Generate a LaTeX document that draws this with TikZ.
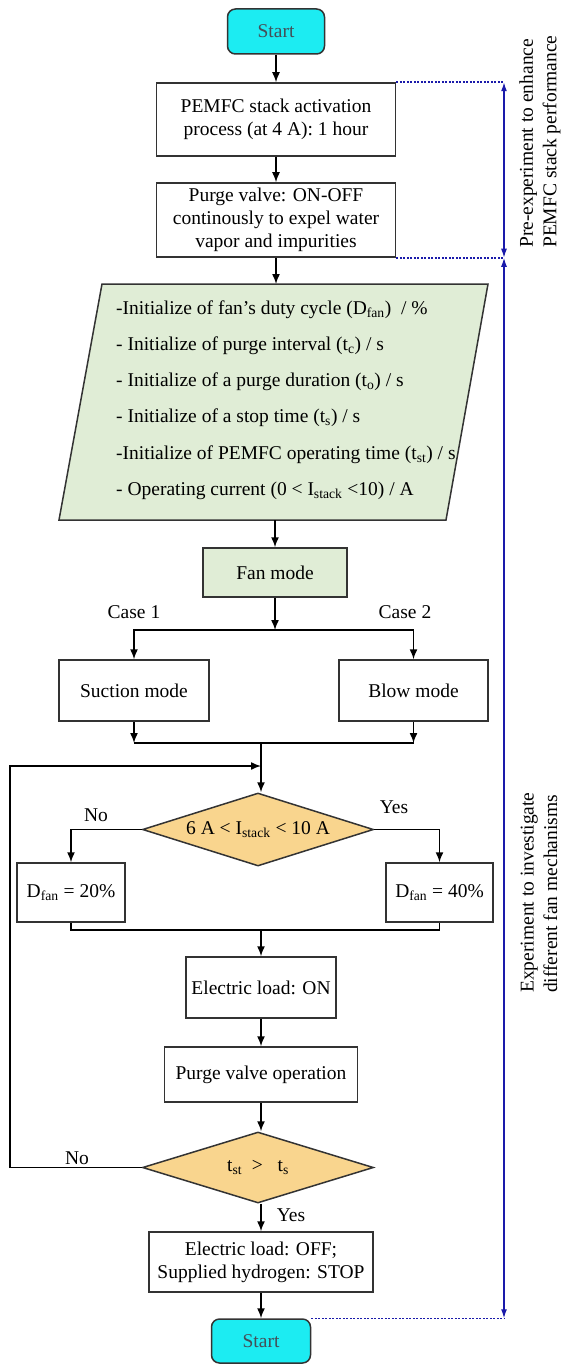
\documentclass[tikz,border=0pt]{standalone}
\usepackage{fontspec}
\setmainfont{Liberation Serif}
\usetikzlibrary{shapes.geometric,arrows.meta}
\definecolor{termcyan}{HTML}{1CECF2}
\definecolor{inputgreen}{HTML}{E0EDD6}
\definecolor{decisionorange}{HTML}{F9D58E}
\definecolor{railblue}{HTML}{1A1AAA}
\definecolor{edgegray}{HTML}{333333}
\tikzset{
	% Node styles for the flowchart: terminals, processes and decisions
	term node/.style={draw=edgegray,line width=1.5pt,rounded corners=8pt,fill=termcyan,text=black!75!cyan},
	proc node/.style={draw=edgegray,line width=1.5pt,fill=white,align=center,inner sep=2pt},
	decision node/.style={diamond,aspect=3.16,draw=edgegray,line width=1.5pt,fill=decisionorange,inner sep=0pt},
	% Connectors: flow arrows, the blue rail and its dotted guides
	flow/.style={line width=1.5pt,-{Latex[length=10pt,width=8pt]}},
	plain flow/.style={line width=1.5pt},
	rail/.style={railblue,line width=1.3pt,{Latex[length=9pt,width=6pt]}-{Latex[length=9pt,width=6pt]}},
	guide/.style={railblue,line width=1.5pt,dash pattern=on 2pt off 1.5pt}
}

\begin{document}
\begin{tikzpicture}[x=1pt,y=-1pt,font=\fontsize{19.5}{23}\selectfont]
			\useasboundingbox (0,0) rectangle (562,1364);
			% Pre-experiment part
			\node(start)[term node,minimum width=97pt,minimum height=45pt] at (276,31.5){Start};
			\node(act)[proc node,minimum width=239pt,minimum height=73pt] at (276,119.5){PEMFC stack activation\\process (at 4 A): 1 hour};
			\node(purge)[proc node,minimum width=239pt,minimum height=74pt] at (276,220){Purge valve: ON-OFF\\continously to expel water\\vapor and impurities};
			
			% Input parallelogram with its six lines
			\coordinate(in-top) at (276,284);
			\coordinate(in-bot) at (275,520);
			\filldraw[draw=edgegray,fill=inputgreen,line width=1.5pt] (102,284) -- (488,284) -- (446,520) -- (59,520) -- cycle;
			\node(init)[anchor=west,align=left,inner sep=0pt,font=\fontsize{19.5}{36.2}\selectfont] at (116,400){-Initialize of fan’s duty cycle (D\textsubscript{fan})~~/ \%\\
				- Initialize of purge interval (t\textsubscript{c}) / s\\
				- Initialize of a purge duration (t\textsubscript{o}) / s\\
				- Initialize of a stop time (t\textsubscript{s}) / s\\
				-Initialize of PEMFC operating time (t\textsubscript{st}) / s\\
				- Operating current (0 < I\textsubscript{stack} <10) / A};
			
			% Fan mechanisms
			\node(fan)[proc node,fill=inputgreen,minimum width=144pt,minimum height=49pt] at (275,572.5){Fan mode};
			\coordinate(split) at (275,630);
			\node(case1) at (134,612){Case 1};
			\node(case2) at (405,612){Case 2};
			\node(suction)[proc node,minimum width=150pt,minimum height=61pt] at (134,690.5){Suction mode};
			\node(blow)[proc node,minimum width=149pt,minimum height=61pt] at (413.5,690.5){Blow mode};
			\coordinate(merge-a) at (261,743);
			\coordinate(loop-in) at (261,766);
			\coordinate(loop-left) at (10,766);
			
			% Duty cycle decision
			\node(check)[decision node,minimum width=231pt,minimum height=73pt] at (258,829.5){6 A < I\textsubscript{stack} < 10 A};
			\node(no1) at (96,815){No};
			\node(yes1) at (394,807){Yes};
			\node(d20)[proc node,minimum width=108pt,minimum height=59pt] at (71,892.5){D\textsubscript{fan} = 20\%};
			\node(d40)[proc node,minimum width=107pt,minimum height=59pt] at (439.5,892.5){D\textsubscript{fan} = 40\%};
			\coordinate(merge-b) at (261,930);
			
			% Operation and stop check
			\node(eload)[proc node,minimum width=150pt,minimum height=61pt] at (261,987.5){Electric load: ON};
			\node(pvop)[proc node,minimum width=193pt,minimum height=55pt] at (261,1074.5){Purge valve operation};
			\node(check2)[decision node,minimum width=231pt,minimum height=71pt] at (258,1167.5){t\textsubscript{st}\ \ >\ \ \ t\textsubscript{s}};
			\node(no2) at (77,1158){No};
			\node(yes2) at (291,1215){Yes};
			\node(final)[proc node,minimum width=224pt,minimum height=60pt] at (261,1262){Electric load: OFF;\\Supplied hydrogen: STOP};
			\node(end)[term node,minimum width=99pt,minimum height=44pt] at (261,1341){Start};
			
			% Flow arrows
			\draw[flow] (start) -- (act);
			\draw[flow] (act) -- (purge);
			\draw[flow] (purge) -- (in-top);
			\draw[flow] (in-bot) -- (fan);
			\draw[flow] (fan) -- (split);
			\draw[flow] (split) -| (suction);
			\draw[flow] (split) -| (blow);
			\draw[flow] (suction) -- (suction.south |- merge-a);
			\draw[flow] (blow) -- (blow.south |- merge-a);
			\draw[plain flow] (suction.south |- merge-a) -- (blow.south |- merge-a);
			\draw[flow] (merge-a) -- (merge-a |- check.north);
			\draw[flow] (check2.west) -| (loop-left) -- (loop-in);
			\draw[flow] (check.west) -| (d20);
			\draw[flow] (check.east) -| (d40);
			\draw[plain flow] (d20.south) |- (d40.south |- merge-b) -- (d40.south);
			\draw[flow] (merge-b) -- (eload);
			\draw[flow] (eload) -- (pvop);
			\draw[flow] (pvop) -- (pvop.south |- check2.north);
			\draw[flow] (check2.south -| final) -- (final);
			\draw[flow] (final) -- (end);
			
			% Blue rail with the two stage labels
			\coordinate(rail) at (504,0);
			\draw[guide] (act.north east) -- (act.north east -| rail);
			\draw[guide] (purge.south east) -- (purge.south east -| rail);
			\draw[guide] (end.north east) -- (end.north east -| rail);
			\draw[rail] (act.north east -| rail) -- (purge.south east -| rail);
			\draw[rail] (purge.south east -| rail) -- (end.north east -| rail);
			\node(pre-label)[rotate=90,anchor=west,align=left,inner sep=0pt,font=\fontsize{19.5}{23.5}\selectfont] at (540,248){Pre-experiment to enhance\\PEMFC stack performance};
			\node(exp-label)[rotate=90,anchor=west,align=left,inner sep=0pt,font=\fontsize{19.5}{23.5}\selectfont] at (539,993){Experiment to investigate\\different fan mechanisms};
		\end{tikzpicture}
\end{document}
